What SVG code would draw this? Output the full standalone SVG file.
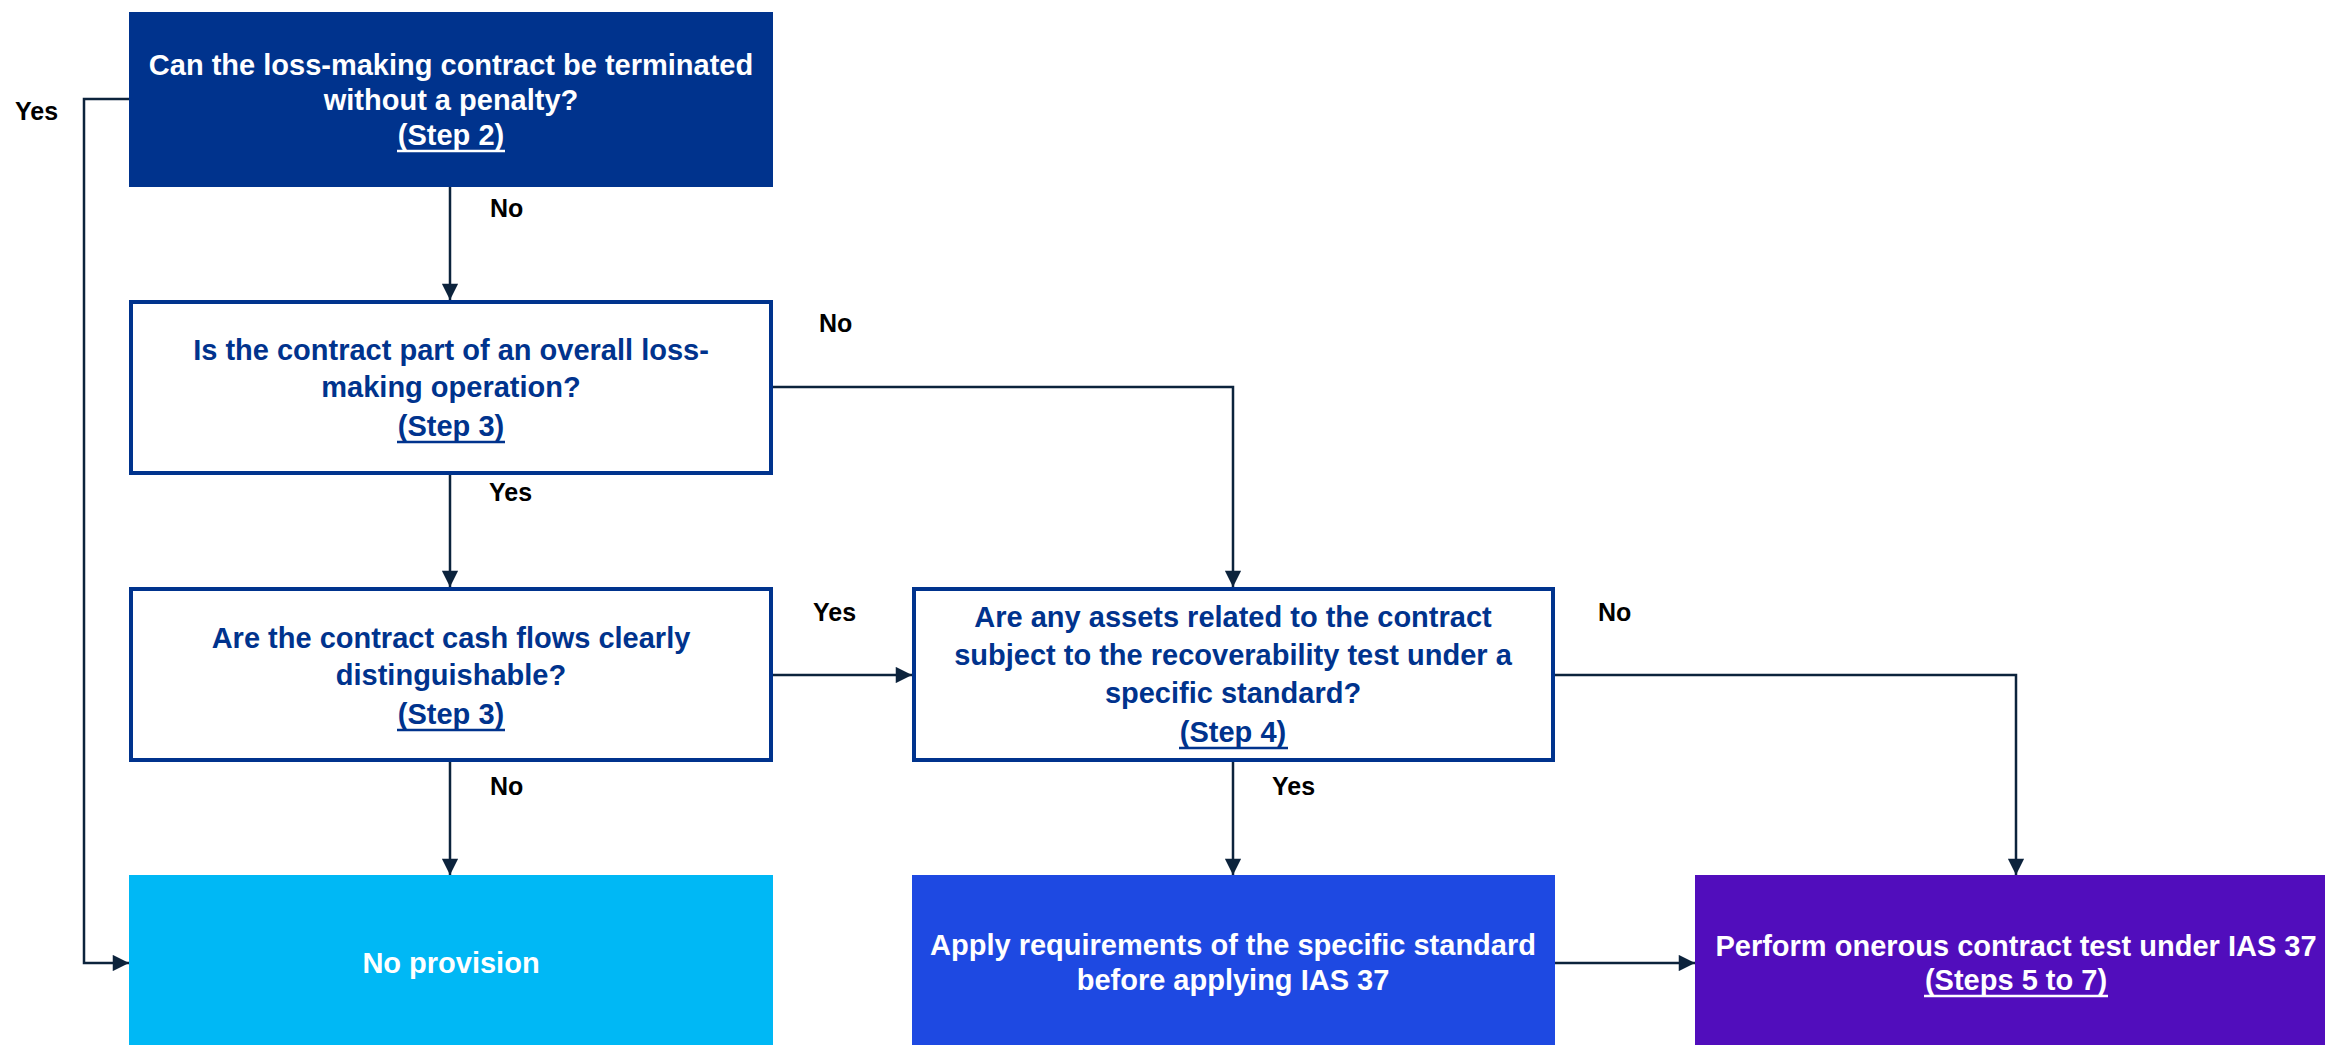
<svg xmlns="http://www.w3.org/2000/svg" width="2325" height="1045" viewBox="0 0 2325 1045">
  <style>
    .q { fill: #ffffff; stroke: #00338D; stroke-width: 4; }
    .t { font-family: "Liberation Sans Narrow", "Liberation Sans", Arial, sans-serif; font-weight: bold; font-size: 29px; text-anchor: middle; }
    .tw { fill: #ffffff; }
    .tb { fill: #00338D; }
    .lbl { font-family: "Liberation Sans Narrow", "Liberation Sans", Arial, sans-serif; font-weight: bold; font-size: 25px; fill: #000000; }
    .uw { stroke: #ffffff; stroke-width: 2.5; }
    .ub { stroke: #00338D; stroke-width: 2.5; }
    .c { fill: none; stroke: #0C233C; stroke-width: 2.5; marker-end: url(#arr); }
  </style>
  <defs>
    <marker id="arr" viewBox="0 0 10 10" refX="10" refY="5" markerWidth="7" markerHeight="6.5" orient="auto" markerUnits="strokeWidth">
      <path d="M0,0 L10,5 L0,10 Z" fill="#0C233C"/>
    </marker>
  </defs>
  <rect width="2325" height="1045" fill="#ffffff"/>

  <g id="connectors">
    <path class="c" d="M450,187 V300"/>
    <path class="c" d="M450,475 V587"/>
    <path class="c" d="M450,762 V875"/>
    <path class="c" d="M773,387 H1233 V587"/>
    <path class="c" d="M773,675 H912"/>
    <path class="c" d="M1555,675 H2016 V875"/>
    <path class="c" d="M1233,762 V875"/>
    <path class="c" d="M1555,963 H1695"/>
    <path class="c" d="M129,99 H84 V963 H129"/>
  </g>

  <g id="labels">
    <text class="lbl" x="15" y="120">Yes</text>
    <text class="lbl" x="490" y="217">No</text>
    <text class="lbl" x="819" y="332">No</text>
    <text class="lbl" x="489" y="501">Yes</text>
    <text class="lbl" x="813" y="621">Yes</text>
    <text class="lbl" x="1598" y="621">No</text>
    <text class="lbl" x="490" y="795">No</text>
    <text class="lbl" x="1272" y="795">Yes</text>
  </g>

  <g id="step2">
    <rect x="129" y="12" width="644" height="175" fill="#00338D"/>
    <text class="t tw" x="451" y="75">Can the loss-making contract be terminated</text>
    <text class="t tw" x="451" y="110">without a penalty?</text>
    <text class="t tw" x="451" y="145">(Step 2)</text>
    <line class="uw" x1="397" y1="151" x2="505" y2="151"/>
  </g>

  <g id="step3a">
    <rect class="q" x="131" y="302" width="640" height="171"/>
    <text class="t tb" x="451" y="360">Is the contract part of an overall loss-</text>
    <text class="t tb" x="451" y="397">making operation?</text>
    <text class="t tb" x="451" y="436">(Step 3)</text>
    <line class="ub" x1="397" y1="442" x2="505" y2="442"/>
  </g>

  <g id="step3b">
    <rect class="q" x="131" y="589" width="640" height="171"/>
    <text class="t tb" x="451" y="648">Are the contract cash flows clearly</text>
    <text class="t tb" x="451" y="685">distinguishable?</text>
    <text class="t tb" x="451" y="724">(Step 3)</text>
    <line class="ub" x1="397" y1="730" x2="505" y2="730"/>
  </g>

  <g id="step4">
    <rect class="q" x="914" y="589" width="639" height="171"/>
    <text class="t tb" x="1233" y="627">Are any assets related to the contract</text>
    <text class="t tb" x="1233" y="665">subject to the recoverability test under a</text>
    <text class="t tb" x="1233" y="703">specific standard?</text>
    <text class="t tb" x="1233" y="742">(Step 4)</text>
    <line class="ub" x1="1179" y1="748" x2="1288" y2="748"/>
  </g>

  <g id="no-provision">
    <rect x="129" y="875" width="644" height="170" fill="#00B8F5"/>
    <text class="t tw" x="451" y="973">No provision</text>
  </g>

  <g id="apply-standard">
    <rect x="912" y="875" width="643" height="170" fill="#1E49E2"/>
    <text class="t tw" x="1233" y="955">Apply requirements of the specific standard</text>
    <text class="t tw" x="1233" y="990">before applying IAS 37</text>
  </g>

  <g id="onerous-test">
    <rect x="1695" y="875" width="644" height="170" fill="#510DBC"/>
    <text class="t tw" x="2016" y="956">Perform onerous contract test under IAS 37</text>
    <text class="t tw" x="2016" y="990">(Steps 5 to 7)</text>
    <line class="uw" x1="1924" y1="996" x2="2108" y2="996"/>
  </g>
</svg>
